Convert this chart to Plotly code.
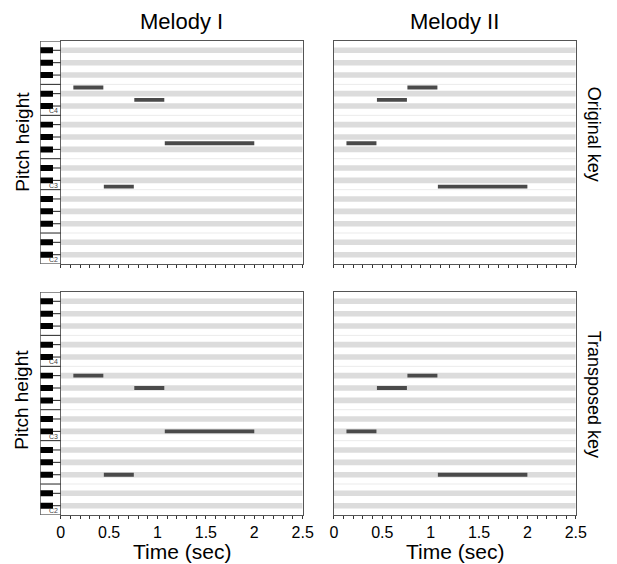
import plotly.graph_objects as go

# the page body adds an 8px margin, so the figure is 8px smaller and all
# window positions below are shifted by 8px
OFF = 8
W, H = 617 - OFF, 564 - OFF

# ---------------- data ----------------
time_ticks = [0, 0.5, 1, 1.5, 2, 2.5]
time_ticklabels = ["0", "0.5", "1", "1.5", "2", "2.5"]
note_onsets = [0.13, 0.445, 0.76, 1.075]
note_offsets = [0.44, 0.755, 1.07, 2.0]

# MIDI pitch numbers (C4 = 60)
melody1_original = [64, 48, 62, 55]      # E4 C3 D4 G3
melody2_original = [55, 62, 64, 48]      # G3 D4 E4 C3
melody1_transposed = [58, 42, 56, 49]    # Bb3 F#2 G#3 C#3
melody2_transposed = [49, 56, 58, 42]    # C#3 G#3 Bb3 F#2

pitch_low, pitch_high = 36, 71           # C2 .. B4
c_labels = {36: "C2", 48: "C3", 60: "C4"}
black_pcs = [1, 3, 6, 8, 10]

col_titles = ["Melody I", "Melody II"]
row_titles = ["Original key", "Transposed key"]

# ---------------- layout geometry (window px -> paper coords) ----------------
def px_x(v):
    return (v - OFF) / W

def px_y(v):
    return 1 - (v - OFF) / H

kb_dom = [px_x(37), px_x(58)]
col_dom = [[px_x(58), px_x(306)], [px_x(338), px_x(586)]]
row_dom = [[px_y(264), px_y(41)], [px_y(515), px_y(292)]]

FONT = "Liberation Sans, Arial, sans-serif"
yr = [pitch_low - 0.5, pitch_high + 0.5]

fig = go.Figure()
shapes = []
annotations = []

panels = [
    (0, 0, melody1_original),
    (0, 1, melody2_original),
    (1, 0, melody1_transposed),
    (1, 1, melody2_transposed),
]

layout = dict(
    width=W, height=H,
    margin=dict(l=0, r=0, t=0, b=0),
    paper_bgcolor="white", plot_bgcolor="white",
    showlegend=False, barmode="overlay",
    font=dict(family=FONT, color="black"),
)

for i, (r, c, pitches) in enumerate(panels):
    n = i + 1
    xa = "x" if n == 1 else f"x{n}"
    ya = "y" if n == 1 else f"y{n}"
    xkey = "xaxis" if n == 1 else f"xaxis{n}"
    ykey = "yaxis" if n == 1 else f"yaxis{n}"
    layout[xkey] = dict(
        domain=col_dom[c], anchor=ya, range=[0, 2.5],
        showline=True, linecolor="#555", linewidth=1, mirror=True,
        ticks="outside", tickvals=time_ticks, ticktext=time_ticklabels,
        ticklen=3, tickcolor="#333", tickwidth=1,
        minor=dict(dtick=0.1, ticks="outside", ticklen=3, tickcolor="#333"),
        showgrid=False, zeroline=False,
        showticklabels=(r == 1), tickfont=dict(size=16, family=FONT),
        fixedrange=True,
    )
    layout[ykey] = dict(
        domain=row_dom[r], anchor=xa, range=yr,
        showline=True, linecolor="#555", linewidth=1, mirror=True,
        ticks="", showticklabels=False, showgrid=False, zeroline=False,
        fixedrange=True,
    )
    # piano-roll stripes
    for p in range(pitch_low, pitch_high + 1):
        if p % 12 in black_pcs:
            shapes.append(dict(type="rect", xref=xa, yref=ya, x0=0, x1=2.5,
                               y0=p - 0.45, y1=p + 0.45, fillcolor="#dcdcdc",
                               line=dict(width=0), layer="below"))
        if p % 12 in (4, 11) and p < pitch_high:
            shapes.append(dict(type="line", xref=xa, yref=ya, x0=0, x1=2.5,
                               y0=p + 0.5, y1=p + 0.5,
                               line=dict(color="#ebebeb", width=1), layer="below"))
    # notes
    fig.add_trace(go.Bar(
        orientation="h", base=note_onsets,
        x=[off - on for on, off in zip(note_onsets, note_offsets)],
        y=pitches, width=0.62,
        marker=dict(color="#4a4a4a", line=dict(width=0)),
        xaxis=xa, yaxis=ya, hoverinfo="skip",
    ))

# keyboards (left of Melody I panels)
for r in range(2):
    n = 5 + r
    xa, ya = f"x{n}", f"y{n}"
    layout[f"xaxis{n}"] = dict(domain=kb_dom, anchor=ya, range=[0, 1],
                               visible=False, fixedrange=True)
    layout[f"yaxis{n}"] = dict(domain=row_dom[r], anchor=xa, range=yr,
                               visible=False, fixedrange=True)
    shapes.append(dict(type="rect", xref=xa, yref=ya, x0=0, x1=1,
                       y0=yr[0], y1=yr[1], fillcolor="white",
                       line=dict(color="#222", width=1)))
    for p in range(pitch_low, pitch_high + 1):
        if p % 12 in black_pcs:
            shapes.append(dict(type="rect", xref=xa, yref=ya, x0=0, x1=0.62,
                               y0=p - 0.48, y1=p + 0.48, fillcolor="black",
                               line=dict(width=0)))
            shapes.append(dict(type="line", xref=xa, yref=ya, x0=0.62, x1=1,
                               y0=p, y1=p, line=dict(color="#222", width=1)))
        if p % 12 in (4, 11) and p < pitch_high:
            shapes.append(dict(type="line", xref=xa, yref=ya, x0=0, x1=1,
                               y0=p + 0.5, y1=p + 0.5,
                               line=dict(color="#222", width=1)))
    for p, lab in c_labels.items():
        annotations.append(dict(xref=xa, yref=ya, x=1, y=p - 0.5,
                                xanchor="right", yanchor="bottom", text=lab,
                                showarrow=False, xshift=-1, yshift=-1,
                                font=dict(size=7, color="#444", family=FONT)))

# titles
for c in range(2):
    annotations.append(dict(xref="paper", yref="paper",
                            x=sum(col_dom[c]) / 2, y=px_y(22),
                            text=col_titles[c], showarrow=False,
                            xanchor="center", yanchor="middle",
                            font=dict(size=22, family=FONT)))
    annotations.append(dict(xref="paper", yref="paper",
                            x=sum(col_dom[c]) / 2, y=px_y(551),
                            text="Time (sec)", showarrow=False,
                            xanchor="center", yanchor="middle",
                            font=dict(size=21, family=FONT)))
label_centres = [[142, 134], [400, 394]]
for r in range(2):
    annotations.append(dict(xref="paper", yref="paper",
                            x=px_x(18), y=px_y(label_centres[r][0]),
                            text="Pitch height", showarrow=False, textangle=-90,
                            xanchor="center", yanchor="middle",
                            font=dict(size=19, family=FONT)))
    annotations.append(dict(xref="paper", yref="paper",
                            x=px_x(605), y=px_y(label_centres[r][1]),
                            text=row_titles[r], showarrow=False, textangle=90,
                            xanchor="center", yanchor="middle",
                            font=dict(size=18, family=FONT)))

layout["shapes"] = shapes
layout["annotations"] = annotations
fig.update_layout(**layout)
fig.write_html("out.html")
